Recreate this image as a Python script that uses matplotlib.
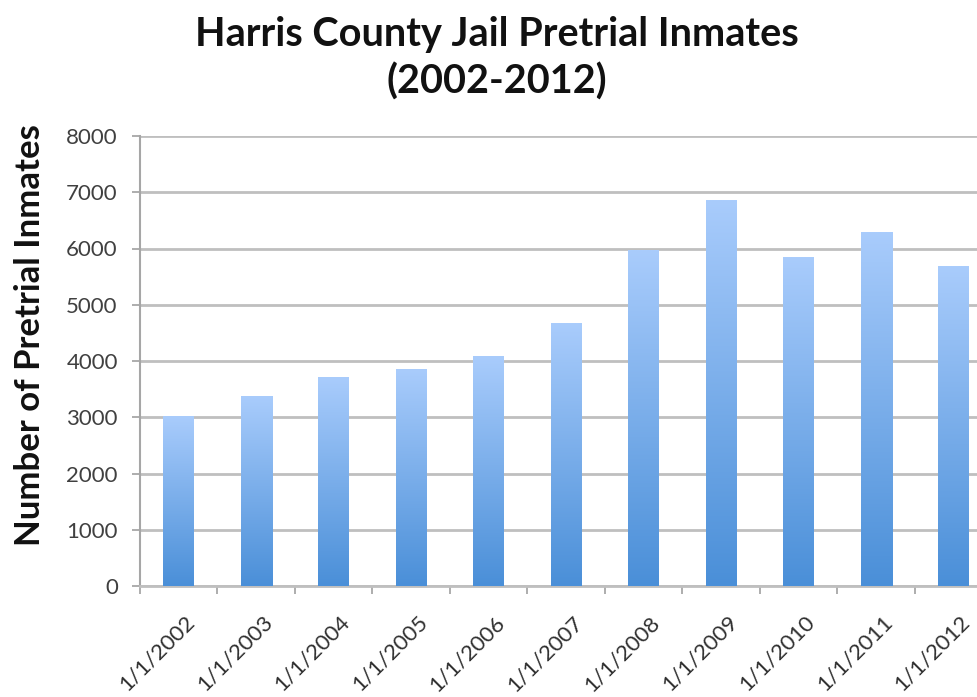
import numpy as np
import matplotlib
matplotlib.use("Agg")
import matplotlib.pyplot as plt
from matplotlib.colors import LinearSegmentedColormap
from matplotlib.transforms import ScaledTranslation

plt.rcParams['font.family'] = ['Lato', 'DejaVu Sans']

categories = ["1/1/2002", "1/1/2003", "1/1/2004", "1/1/2005", "1/1/2006", "1/1/2007",
              "1/1/2008", "1/1/2009", "1/1/2010", "1/1/2011", "1/1/2012"]
inmates = [3005, 3375, 3714, 3852, 4079, 4661, 5964, 6859, 5845, 6278, 5682]
y_ticks = [0, 1000, 2000, 3000, 4000, 5000, 6000, 7000, 8000]

title = "Harris County Jail Pretrial Inmates\n(2002-2012)"
ylabel = "Number of Pretrial Inmates"

W, H = 978, 697
fig = plt.figure(figsize=(W / 100, H / 100), dpi=100)
left, right = 140 / W, 992.5 / W
bottom, top = (H - 586) / H, (H - 136) / H
ax = fig.add_axes([left, bottom, right - left, top - bottom])

x = np.arange(len(categories))
bars = ax.bar(x, inmates, width=0.4, color='none', edgecolor='none', zorder=3)

cmap = LinearSegmentedColormap.from_list("grad", ["#4A8FD8", "#A9CCFC"])
grad = np.linspace(0, 1, 256).reshape(-1, 1)
for b in bars:
    x0, y0 = b.get_x(), b.get_y()
    w, h = b.get_width(), b.get_height()
    ax.imshow(grad, cmap=cmap, origin='lower', aspect='auto',
              extent=(x0, x0 + w, y0, y0 + h), zorder=3, interpolation='bilinear')

ax.set_xlim(-0.5, len(categories) - 0.5)
ax.set_ylim(0, 8000)
ax.set_yticks(y_ticks)
ax.set_yticklabels([str(v) for v in y_ticks])
ax.yaxis.grid(True, color='#BFBFBF', linewidth=2.0, zorder=0)
ax.set_axisbelow(True)

# x ticks: labels at centers, tick marks at boundaries
ax.set_xticks(x)
ax.set_xticklabels(categories, rotation=45, ha='right', va='top', rotation_mode='anchor')
ax.set_xticks(np.arange(len(categories) + 1) - 0.5, minor=True)
ax.tick_params(axis='x', which='major', length=0, pad=0, labelsize=16, labelcolor='#303030')
ax.tick_params(axis='x', which='minor', length=6, width=1.2, color='#A0A0A0')
ax.tick_params(axis='y', length=6, width=1.2, color='#A0A0A0', labelsize=16,
               labelcolor='#404040', pad=10)
offset = ScaledTranslation(6 / 100, -26 / 100, fig.dpi_scale_trans)
for lab in ax.get_xticklabels():
    lab.set_transform(lab.get_transform() + offset)

for s in ['top', 'right']:
    ax.spines[s].set_visible(False)
ax.spines['left'].set_color('#A6A6A6')
ax.spines['left'].set_linewidth(1.5)
ax.spines['bottom'].set_color('#BFBFBF')
ax.spines['bottom'].set_linewidth(2.0)

fig.text(497 / W, 1 - 16 / H, title, ha='center', va='top', fontsize=28.5,
         fontweight='bold', color='#111111', linespacing=1.3)
fig.text(30 / W, 1 - 335 / H, ylabel, rotation=90, ha='center', va='center',
         fontsize=25, fontweight='bold', color='#111111')

fig.savefig("out.png", dpi=100)
